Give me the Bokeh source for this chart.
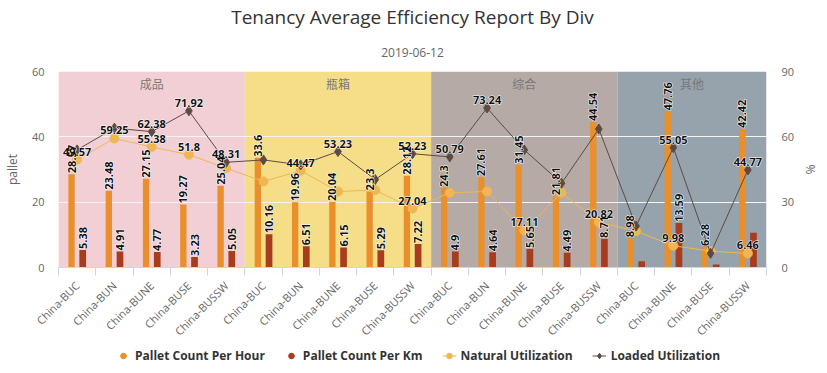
import math
from bokeh.plotting import figure
from bokeh.layouts import column
from bokeh.models import (Range1d, LinearAxis, FixedTicker, ColumnDataSource, Label,
                          BoxAnnotation, Legend, LegendItem, Title)
from bokeh.transform import dodge
from bokeh.core.properties import value
from bokeh.embed import file_html
from bokeh.resources import INLINE

# ---------------- data ----------------
chart_title = "Tenancy Average Efficiency Report By Div"
chart_subtitle = "2019-06-12"
divisions = ["成品", "瓶箱", "综合", "其他"]
division_sites = [
    ["China-BUC", "China-BUN", "China-BUNE", "China-BUSE", "China-BUSSW"],
    ["China-BUC", "China-BUN", "China-BUNE", "China-BUSE", "China-BUSSW"],
    ["China-BUC", "China-BUN", "China-BUNE", "China-BUSE", "China-BUSSW"],
    ["China-BUC", "China-BUNE", "China-BUSE", "China-BUSSW"],
]
pallet_per_hour = [28.57, 23.48, 27.15, 19.27, 25.04,
                   33.6, 19.96, 20.04, 23.3, 28.12,
                   24.3, 27.61, 31.45, 21.81, 44.54,
                   8.98, 47.76, 6.28, 42.42]
pallet_per_km = [5.38, 4.91, 4.77, 3.23, 5.05,
                 10.16, 6.51, 6.15, 5.29, 7.22,
                 4.9, 4.64, 5.65, 4.49, 8.71,
                 1.9, 13.59, 0.9, 10.6]
natural_util = [49.57, 59.25, 55.38, 51.8, 45.6,
                39.5, 44.47, 34.9, 35.6, 27.04,
                34.3, 34.9, 17.11, 34.3, 20.82,
                16.7, 9.98, 7.5, 6.46]
loaded_util = [54.0, 64.0, 62.38, 71.92, 48.31,
               49.4, 47.1, 53.23, 40.4, 52.23,
               50.79, 73.24, 54.0, 38.7, 63.6,
               19.0, 55.05, 6.5, 44.77]
# which data labels are visible in the original (overlapping ones are hidden)
per_km_label_shown = [1, 1, 1, 1, 1, 1, 1, 1, 1, 1, 1, 1, 1, 1, 1, 0, 1, 0, 0]
natural_label_shown = [1, 1, 1, 1, 0, 0, 1, 0, 0, 1, 0, 0, 1, 0, 1, 0, 1, 0, 1]
loaded_label_shown = [0, 0, 1, 1, 1, 0, 0, 1, 0, 1, 1, 1, 0, 0, 0, 0, 1, 0, 1]
left_ticks = [0, 20, 40, 60]
right_ticks = [0, 30, 60, 90]
band_colors = ["#f2cfd5", "#f5de87", "#b5aaa5", "#96a3ad"]
legend_labels = ["Pallet Count Per Hour", "Pallet Count Per Km",
                 "Natural Utilization", "Loaded Utilization"]

# ---------------- styles ----------------
C_HOUR = "#e98f2b"
C_KM = "#a83c1f"
C_NAT = "#f0b653"
C_LOAD = "#5c4b43"
FONT = "Open Sans"
CJK = "Noto Sans CJK SC"

sites = [s for grp in division_sites for s in grp]
n = len(sites)
xs = list(range(n))

p = figure(frame_width=708, frame_height=196, output_backend="svg", toolbar_location=None,
           x_range=Range1d(-0.5, n - 0.5), y_range=Range1d(left_ticks[0], left_ticks[-1]),
           min_border_left=52, min_border_right=51, min_border_top=0, min_border_bottom=0,
           title=None)
p.outline_line_color = None
p.background_fill_color = "white"
p.border_fill_color = "white"
p.extra_y_ranges = {"pct": Range1d(right_ticks[0], right_ticks[-1])}

# titles (the one added first sits closest to the plot)
p.add_layout(Title(text=chart_subtitle, align="center", text_font=FONT, text_font_size="12px",
                   text_font_style="normal", text_color="#666666", standoff=30), "above")
p.add_layout(Title(text=chart_title, align="center", text_font=FONT, text_font_size="19px",
                   text_font_style="normal", text_color="#333333", standoff=2), "above")

# division bands
start = 0
for name, grp, col in zip(divisions, division_sites, band_colors):
    end = start + len(grp)
    p.add_layout(BoxAnnotation(left=start - 0.5, right=end - 0.5, fill_color=col, fill_alpha=1.0,
                               line_color=None, level="image"))
    p.add_layout(Label(x=(start + end - 1) / 2, y=left_ticks[-1], text=name, text_align="center",
                       text_baseline="middle", y_offset=-12, text_font=CJK, text_font_size="12px",
                       text_font_style="normal", text_color="#777777"))
    start = end

# axes
p.xgrid.visible = False
p.ygrid.ticker = FixedTicker(ticks=left_ticks[1:])
p.ygrid.grid_line_color = "#f4f4f4"
p.ygrid.grid_line_width = 1

xa = p.xaxis[0]
xa.axis_label = None
xa.ticker = FixedTicker(ticks=xs, minor_ticks=[i - 0.5 for i in range(n + 1)])
xa.major_label_overrides = {i: s for i, s in enumerate(sites)}
xa.major_label_orientation = math.pi / 4
xa.major_tick_line_color = None
xa.major_tick_out = 0
xa.major_tick_in = 0
xa.minor_tick_line_color = "#ccd6eb"
xa.minor_tick_in = 0
xa.minor_tick_out = 8
xa.axis_line_color = "#ccd6eb"
xa.major_label_text_font = FONT
xa.major_label_text_font_size = "11px"
xa.major_label_text_color = "#666666"
xa.major_label_standoff = 8

ya = p.yaxis[0]
ya.ticker = FixedTicker(ticks=left_ticks)
ya.axis_label = "pallet"
ra = LinearAxis(y_range_name="pct", ticker=FixedTicker(ticks=right_ticks), axis_label="%")
p.add_layout(ra, "right")
for ax, std, lstd in ((ya, 14, 8), (ra, 15, 5)):
    ax.axis_line_color = None
    ax.major_tick_line_color = None
    ax.minor_tick_line_color = None
    ax.major_tick_out = 0
    ax.major_tick_in = 0
    ax.minor_tick_out = 0
    ax.minor_tick_in = 0
    ax.major_label_text_font = FONT
    ax.major_label_text_font_size = "11px"
    ax.major_label_text_color = "#666666"
    ax.major_label_standoff = std
    ax.axis_label_text_font = FONT
    ax.axis_label_text_font_size = "12px"
    ax.axis_label_text_font_style = "normal"
    ax.axis_label_text_color = "#666666"
    ax.axis_label_standoff = lstd

src = ColumnDataSource(dict(x=xs, hour=pallet_per_hour, km=pallet_per_km,
                            nat=natural_util, load=loaded_util))

# bars
p.vbar(x=dodge("x", -0.15, range=p.x_range), top="hour", width=0.17, source=src,
       fill_color=C_HOUR, line_color=None)
p.vbar(x=dodge("x", 0.15, range=p.x_range), top="km", width=0.18, source=src,
       fill_color=C_KM, line_color=None)

# lines
p.line("x", "nat", source=src, y_range_name="pct", line_color=C_NAT, line_width=1)
p.scatter("x", "nat", source=src, y_range_name="pct", marker="circle", size=9,
          fill_color=C_NAT, line_color=C_NAT)
p.line("x", "load", source=src, y_range_name="pct", line_color=C_LOAD, line_width=1)
p.scatter("x", "load", source=src, y_range_name="pct", marker="diamond", size=10,
          fill_color=C_LOAD, line_color=C_LOAD)

# data labels
def fmt(v):
    return ("%.2f" % v).rstrip("0").rstrip(".")

hour_lbl = ColumnDataSource(dict(x=xs, y=pallet_per_hour, t=[fmt(v) for v in pallet_per_hour]))
km_idx = [i for i in xs if per_km_label_shown[i]]
km_lbl = ColumnDataSource(dict(x=km_idx, y=[pallet_per_km[i] for i in km_idx],
                               t=[fmt(pallet_per_km[i]) for i in km_idx]))
nat_idx = [i for i in xs if natural_label_shown[i]]
nat_lbl = ColumnDataSource(dict(x=nat_idx, y=[natural_util[i] for i in nat_idx],
                                t=[fmt(natural_util[i]) for i in nat_idx]))
load_idx = [i for i in xs if loaded_label_shown[i]]
load_lbl = ColumnDataSource(dict(x=load_idx, y=[loaded_util[i] for i in load_idx],
                                 t=[fmt(loaded_util[i]) for i in load_idx]))

base = dict(text="t", text_font=value(FONT), text_font_size="11px", text_font_style="bold")
halo = dict(text_color="white", text_outline_color="white", **base)
ink = dict(text_color="#111111", **base)
label_specs = [
    (dict(x=dodge("x", -0.15, range=p.x_range), y="y", source=hour_lbl, angle=math.pi / 2,
          text_align="left", text_baseline="middle", y_offset=-1)),
    (dict(x=dodge("x", 0.15, range=p.x_range), y="y", source=km_lbl, angle=math.pi / 2,
          text_align="left", text_baseline="middle", y_offset=-1)),
    (dict(x="x", y="y", source=nat_lbl, y_range_name="pct", text_align="center",
          text_baseline="bottom", y_offset=-4)),
    (dict(x="x", y="y", source=load_lbl, y_range_name="pct", text_align="center",
          text_baseline="bottom", y_offset=-4)),
]
for spec in label_specs:
    p.text(**spec, **halo)
for spec in label_specs:
    p.text(**spec, **ink)

# ---------------- legend strip (own small figure under the chart) ----------------
# its y range lies below all data, so the series drawn here only feed the legend swatches
lg = figure(frame_width=708, frame_height=18, output_backend="svg", toolbar_location=None,
            x_axis_type=None, y_axis_type=None, x_range=Range1d(-0.5, n - 0.5),
            y_range=Range1d(-2, -1),
            min_border_left=52, min_border_right=51, min_border_top=0, min_border_bottom=0,
            title=None)
lg.outline_line_color = None
lg.background_fill_color = "white"
lg.border_fill_color = "white"
r_hour = lg.scatter("x", "hour", source=src, marker="circle", size=12,
                    fill_color=C_HOUR, line_color=C_HOUR)
r_km = lg.scatter("x", "km", source=src, marker="circle", size=12,
                  fill_color=C_KM, line_color=C_KM)
r_nat_l = lg.line("x", "nat", source=src, line_color=C_NAT, line_width=1)
r_nat_p = lg.scatter("x", "nat", source=src, marker="circle", size=8,
                     fill_color=C_NAT, line_color=C_NAT)
r_load_l = lg.line("x", "load", source=src, line_color=C_LOAD, line_width=1)
r_load_p = lg.scatter("x", "load", source=src, marker="diamond", size=9,
                      fill_color=C_LOAD, line_color=C_LOAD)
legend = Legend(items=[
    LegendItem(label=legend_labels[0], renderers=[r_hour]),
    LegendItem(label=legend_labels[1], renderers=[r_km]),
    LegendItem(label=legend_labels[2], renderers=[r_nat_l, r_nat_p]),
    LegendItem(label=legend_labels[3], renderers=[r_load_l, r_load_p]),
], orientation="horizontal", location="left", label_text_font=FONT,
    label_text_font_size="12px", label_text_font_style="bold", label_text_color="#333333",
    glyph_width=14, glyph_height=14, label_height=14, label_standoff=5, spacing=19,
    padding=0, margin=58, background_fill_alpha=0, border_line_color=None)
lg.add_layout(legend)

page = column(p, lg, spacing=0)
open("out.html", "w").write(file_html(page, INLINE))
